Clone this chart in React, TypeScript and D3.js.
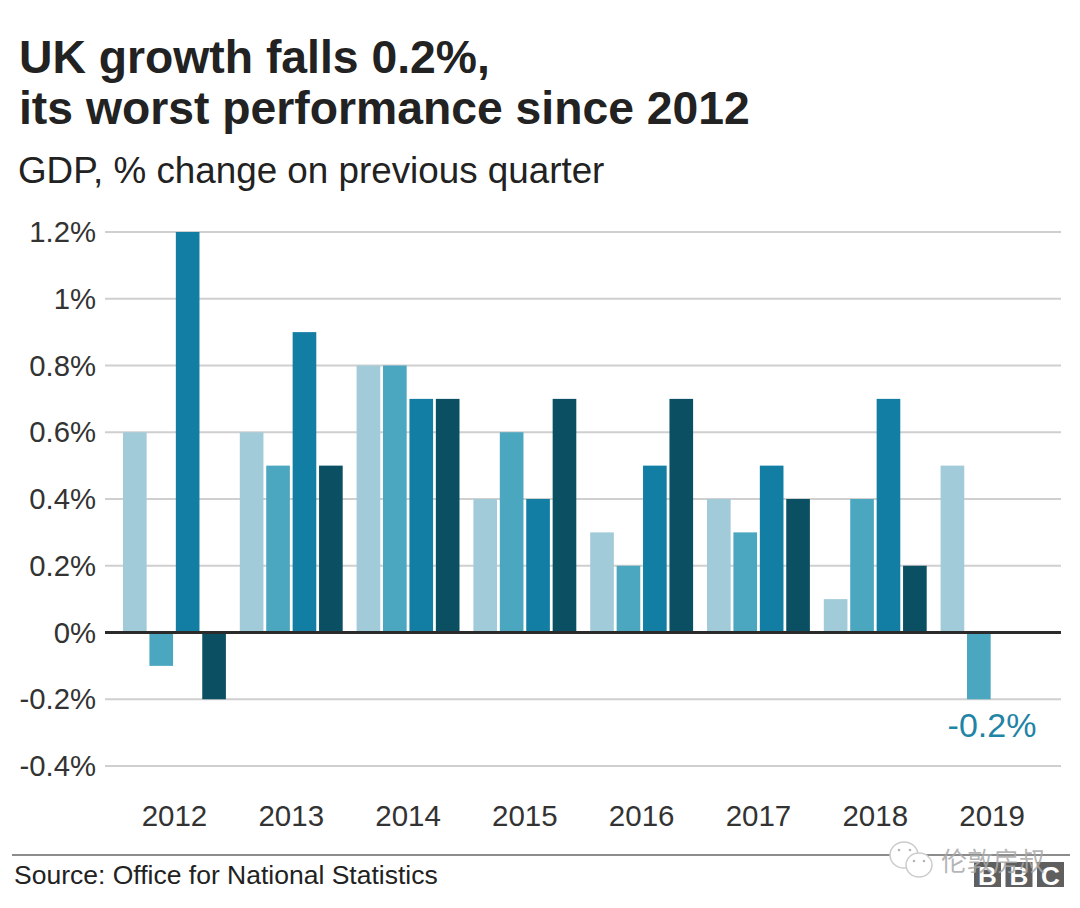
import React from 'react';
import * as d3 from 'd3';

const years = ['2012', '2013', '2014', '2015', '2016', '2017', '2018', '2019'];
const quarters = ['Q1', 'Q2', 'Q3', 'Q4'];
const growth2012 = [0.6, -0.1, 1.2, -0.2];
const growth2013 = [0.6, 0.5, 0.9, 0.5];
const growth2014 = [0.8, 0.8, 0.7, 0.7];
const growth2015 = [0.4, 0.6, 0.4, 0.7];
const growth2016 = [0.3, 0.2, 0.5, 0.7];
const growth2017 = [0.4, 0.3, 0.5, 0.4];
const growth2018 = [0.1, 0.4, 0.7, 0.2];
const growth2019 = [0.5, -0.2];
const yTicks = [-0.4, -0.2, 0, 0.2, 0.4, 0.6, 0.8, 1, 1.2];
const quarterColors = ['#a2cbd9', '#4ba6bf', '#127ea3', '#0b4f63'];

const allGrowth = [growth2012, growth2013, growth2014, growth2015, growth2016, growth2017, growth2018, growth2019];

const FONT = '"Liberation Sans", Arial, sans-serif';
const INK = '#222222';

const App: React.FC = () => {
  const x0 = d3.scaleBand<string>().domain(years).range([123, 1043.5]).paddingInner(0.119);
  const x1 = d3.scaleBand<string>().domain(quarters).range([0, x0.bandwidth()]).paddingInner(0.105);
  const y = d3.scaleLinear().domain([-0.4, 1.2]).range([766, 232]);

  return (
    <svg
      width={1080}
      height={908}
      style={{ position: 'absolute', left: 0, top: 0, background: '#fff', fontFamily: FONT }}
    >
      {/* Title block */}
      <text x={19} y={73} fontSize={46.3} fontWeight="bold" fill={INK}>UK growth falls 0.2%,</text>
      <text x={19} y={124} fontSize={46.3} fontWeight="bold" fill={INK}>its worst performance since 2012</text>
      <text x={18} y={183} fontSize={36.8} fill={INK}>GDP, % change on previous quarter</text>

      {/* Gridlines and y axis labels */}
      {yTicks.map((t) => (
        <g key={t}>
          {t !== 0 && <line x1={105} x2={1061} y1={y(t)} y2={y(t)} stroke="#cfcfcf" strokeWidth={2} />}
          <text x={96} y={y(t) + 10} fontSize={29.3} textAnchor="end" fill="#333">
            {`${t}%`}
          </text>
        </g>
      ))}

      {/* Bars */}
      {allGrowth.map((values, i) => (
        <g key={years[i]} transform={`translate(${x0(years[i])},0)`}>
          {values.map((v, q) => (
            <rect
              key={quarters[q]}
              x={x1(quarters[q])}
              y={y(Math.max(v, 0))}
              width={x1.bandwidth()}
              height={Math.abs(y(v) - y(0))}
              fill={quarterColors[q]}
            />
          ))}
        </g>
      ))}

      {/* Zero line */}
      <line x1={105} x2={1061} y1={y(0)} y2={y(0)} stroke="#2b2b2b" strokeWidth={3} />

      {/* Year labels */}
      {years.map((yr) => (
        <text
          key={yr}
          x={(x0(yr) as number) + x0.bandwidth() / 2}
          y={826}
          fontSize={29.5}
          textAnchor="middle"
          fill="#333"
        >
          {yr}
        </text>
      ))}

      {/* Annotation */}
      <text x={992} y={737} fontSize={34} textAnchor="middle" fill="#1f84a5">-0.2%</text>

      {/* Footer */}
      <line x1={12} x2={1070} y1={855} y2={855} stroke="#666" strokeWidth={1.5} />
      <text x={14} y={884} fontSize={26.5} fill={INK}>Source: Office for National Statistics</text>

      {/* BBC blocks */}
      {['B', 'B', 'C'].map((letter, i) => (
        <g key={i} transform={`translate(${974 + i * 31.5},862)`}>
          <rect width={27} height={25} fill="#5f5f5f" />
          <text x={13.5} y={23} fontSize={26} fontWeight="bold" textAnchor="middle" fill="#fff">{letter}</text>
        </g>
      ))}

      {/* Watermark */}
      <text
        x={941}
        y={871}
        fontSize={26}
        fontFamily='"Noto Sans CJK SC", sans-serif'
        fill="#a8a8a8"
        fillOpacity={0.85}
      >
        伦敦房叔
      </text>
      <g fill="#fff" stroke="#cccccc" strokeWidth={1.5}>
        <ellipse cx={904} cy={855} rx={14} ry={13} />
        <ellipse cx={919} cy={865} rx={13} ry={12} />
      </g>
      <g fill="#b5b5b5">
        <circle cx={899} cy={850} r={1.3} />
        <circle cx={910} cy={850} r={1.3} />
        <circle cx={914} cy={861} r={1.3} />
        <circle cx={924} cy={861} r={1.3} />
      </g>
    </svg>
  );
};

export default App;
